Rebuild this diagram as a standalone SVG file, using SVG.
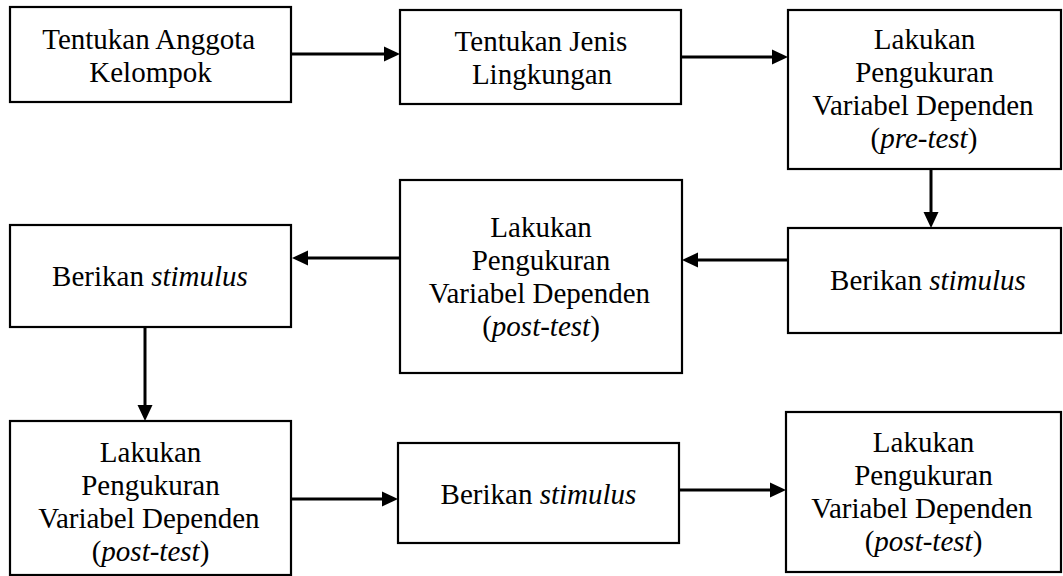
<svg xmlns="http://www.w3.org/2000/svg" width="1063" height="576" viewBox="0 0 1063 576">
<rect width="1063" height="576" fill="#fff"/>
<g id="connectors" stroke="#000" stroke-width="3" fill="#000">
<line x1="292" y1="54" x2="385" y2="54"/>
<polygon stroke="none" points="384,46.5 400,54 384,61.5"/>
<line x1="682" y1="57" x2="773" y2="57"/>
<polygon stroke="none" points="772,49.5 788,57 772,64.5"/>
<line x1="931" y1="170" x2="931" y2="213"/>
<polygon stroke="none" points="923.5,212 931,228 938.5,212"/>
<line x1="787" y1="260" x2="697" y2="260"/>
<polygon stroke="none" points="698,252.5 682,260 698,267.5"/>
<line x1="399" y1="258" x2="307" y2="258"/>
<polygon stroke="none" points="308,250.5 292,258 308,265.5"/>
<line x1="145" y1="328" x2="145" y2="406"/>
<polygon stroke="none" points="137.5,405 145,421 152.5,405"/>
<line x1="292" y1="499" x2="383" y2="499"/>
<polygon stroke="none" points="382,491.5 398,499 382,506.5"/>
<line x1="680" y1="490" x2="771" y2="490"/>
<polygon stroke="none" points="770,482.5 786,490 770,497.5"/>
</g>
<g id="n1">
<rect fill="#fff" stroke="#000" stroke-width="2.2" x="10" y="7" width="281" height="95"/>
<text x="42.2" y="49" style="font-family:'Liberation Serif';font-size:29px">Tentukan Anggota</text>
<text x="89.3" y="82" style="font-family:'Liberation Serif';font-size:29px">Kelompok</text>
</g>
<g id="n2">
<rect fill="#fff" stroke="#000" stroke-width="2.2" x="400" y="10" width="281" height="94"/>
<text x="454.6" y="51" style="font-family:'Liberation Serif';font-size:29px">Tentukan Jenis</text>
<text x="471.9" y="84" style="font-family:'Liberation Serif';font-size:29px">Lingkungan</text>
</g>
<g id="n3">
<rect fill="#fff" stroke="#000" stroke-width="2.2" x="788" y="10" width="273" height="159"/>
<text x="873.8" y="49" style="font-family:'Liberation Serif';font-size:29px">Lakukan</text>
<text x="855.2" y="82" style="font-family:'Liberation Serif';font-size:29px">Pengukuran</text>
<text x="812.2" y="115" style="font-family:'Liberation Serif';font-size:29px">Variabel Dependen</text>
<text x="870.5" y="148" style="font-family:'Liberation Serif';font-size:29px">(<tspan style="font-style:italic">pre-test</tspan>)</text>
</g>
<g id="n4">
<rect fill="#fff" stroke="#000" stroke-width="2.2" x="788" y="228" width="273" height="105"/>
<text x="830.1" y="290" style="font-family:'Liberation Serif';font-size:29px">Berikan <tspan style="font-style:italic">stimulus</tspan></text>
</g>
<g id="n5">
<rect fill="#fff" stroke="#000" stroke-width="2.2" x="400" y="180" width="282" height="193"/>
<text x="490.3" y="237" style="font-family:'Liberation Serif';font-size:29px">Lakukan</text>
<text x="471.7" y="270" style="font-family:'Liberation Serif';font-size:29px">Pengukuran</text>
<text x="428.7" y="303" style="font-family:'Liberation Serif';font-size:29px">Variabel Dependen</text>
<text x="482.2" y="336" style="font-family:'Liberation Serif';font-size:29px">(<tspan style="font-style:italic">post-test</tspan>)</text>
</g>
<g id="n6">
<rect fill="#fff" stroke="#000" stroke-width="2.2" x="10" y="225" width="281" height="102"/>
<text x="52.1" y="286" style="font-family:'Liberation Serif';font-size:29px">Berikan <tspan style="font-style:italic">stimulus</tspan></text>
</g>
<g id="n7">
<rect fill="#fff" stroke="#000" stroke-width="2.2" x="10" y="421" width="281" height="154"/>
<text x="99.8" y="462" style="font-family:'Liberation Serif';font-size:29px">Lakukan</text>
<text x="81.2" y="495" style="font-family:'Liberation Serif';font-size:29px">Pengukuran</text>
<text x="38.2" y="528" style="font-family:'Liberation Serif';font-size:29px">Variabel Dependen</text>
<text x="91.7" y="561" style="font-family:'Liberation Serif';font-size:29px">(<tspan style="font-style:italic">post-test</tspan>)</text>
</g>
<g id="n8">
<rect fill="#fff" stroke="#000" stroke-width="2.2" x="398" y="443" width="281" height="100"/>
<text x="440.6" y="504" style="font-family:'Liberation Serif';font-size:29px">Berikan <tspan style="font-style:italic">stimulus</tspan></text>
</g>
<g id="n9">
<rect fill="#fff" stroke="#000" stroke-width="2.2" x="786" y="412" width="275" height="160"/>
<text x="872.8" y="452" style="font-family:'Liberation Serif';font-size:29px">Lakukan</text>
<text x="854.2" y="485" style="font-family:'Liberation Serif';font-size:29px">Pengukuran</text>
<text x="811.2" y="518" style="font-family:'Liberation Serif';font-size:29px">Variabel Dependen</text>
<text x="864.7" y="551" style="font-family:'Liberation Serif';font-size:29px">(<tspan style="font-style:italic">post-test</tspan>)</text>
</g>
</svg>
